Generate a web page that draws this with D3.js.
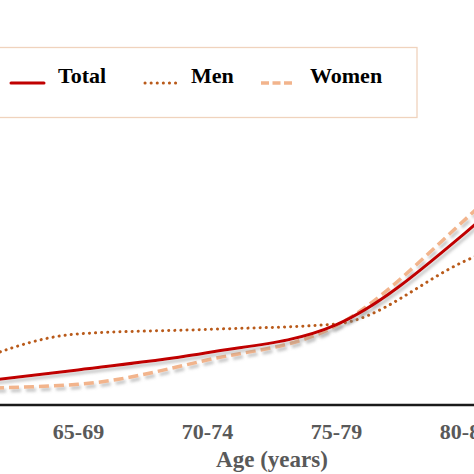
<!DOCTYPE html>
<html>
<head>
<meta charset="utf-8">
<script src="https://cdn.jsdelivr.net/npm/d3@7"></script>
<style>
html,body{margin:0;padding:0;background:#fff;overflow:hidden;}
svg{display:block;}
</style>
</head>
<body>
<svg id="chart" width="474" height="474"></svg>
<script>
// Data (prevalence-like values, %)
const categories = ["60-64", "65-69", "70-74", "75-79", "80-84", "85+"];
const totalValues = [2.2, 3.9, 5.8, 8.9, 19.1, 33];
const menValues   = [3.7, 7.9, 8.4, 9.0, 16.0, 22];
const womenValues = [1.8, 2.3, 5.0, 8.8, 20.6, 35];
const seriesNames = ["Total", "Men", "Women"];
const axisTitle = "Age (years)";

const svg = d3.select("#chart");
const W = 474, H = 474;

const x = d3.scalePoint().domain(categories).range([-51, 594]);
const y = d3.scaleLinear().domain([0, 40]).range([405, 45]);

const defs = svg.append("defs");
const f = defs.append("filter").attr("id", "shadow")
  .attr("x", "-10%").attr("y", "-10%").attr("width", "130%").attr("height", "140%");
f.append("feDropShadow").attr("dx", 2).attr("dy", 3).attr("stdDeviation", 1.8)
  .attr("flood-color", "#7a7a7a").attr("flood-opacity", 0.45);

const styles = {
  Total: {color: "#c00000", width: 3, dash: null, cap: "round"},
  Men:   {color: "#b95a1a", width: 3, dash: "0.1 6", cap: "round"},
  Women: {color: "#f2b48c", width: 3.5, dash: "10 5", cap: "butt"}
};
const seriesData = {Total: totalValues, Men: menValues, Women: womenValues};

// Lines
const line = d3.line()
  .x((d, i) => x(categories[i]))
  .y(d => y(d))
  .curve(d3.curveMonotoneX);

const g = svg.append("g");
["Men", "Women", "Total"].forEach(name => {
  const s = styles[name];
  g.append("path")
    .datum(seriesData[name])
    .attr("d", line)
    .attr("fill", "none")
    .attr("stroke", s.color)
    .attr("stroke-width", s.width)
    .attr("stroke-linecap", s.cap)
    .attr("stroke-linejoin", "round")
    .attr("stroke-dasharray", s.dash)
    .attr("filter", name === "Men" ? null : "url(#shadow)");
});

// X axis
const xAxis = d3.axisBottom(x).tickSize(0).tickPadding(0);
const ax = svg.append("g").attr("transform", `translate(0,${y(0)})`).call(xAxis);
ax.select(".domain").remove();
ax.append("line").attr("x1", 0).attr("x2", W).attr("y1", 0).attr("y2", 0)
  .attr("stroke", "#1a1a1a").attr("stroke-width", 2.6);
ax.selectAll(".tick text")
  .attr("y", 34)
  .attr("dy", 0)
  .attr("font-family", "'Liberation Serif', 'Times New Roman', serif")
  .attr("font-weight", "bold")
  .attr("font-size", 22)
  .attr("fill", "#595959");

svg.append("text")
  .attr("x", 272).attr("y", 467)
  .attr("text-anchor", "middle")
  .attr("font-family", "'Liberation Serif', 'Times New Roman', serif")
  .attr("font-weight", "bold")
  .attr("font-size", 23)
  .attr("fill", "#595959")
  .text(axisTitle);

// Legend
const lg = svg.append("g");
lg.append("rect").attr("x", -10).attr("y", 47.5).attr("width", 427).attr("height", 70)
  .attr("fill", "#fff").attr("stroke", "#f0d3bd").attr("stroke-width", 1.3);
const legendPos = {Total: [11, 58], Men: [145, 191], Women: [261, 310]};
seriesNames.forEach(name => {
  const s = styles[name];
  const [lx, tx] = legendPos[name];
  lg.append("line").attr("x1", lx).attr("x2", lx + 33).attr("y1", 83).attr("y2", 83)
    .attr("stroke", s.color).attr("stroke-width", s.width)
    .attr("stroke-linecap", s.cap)
    .attr("stroke-dasharray", name === "Women" ? "8 3.5" : s.dash);
  lg.append("text").attr("x", tx).attr("y", 83)
    .attr("font-family", "'Liberation Serif', 'Times New Roman', serif")
    .attr("font-weight", "bold").attr("font-size", 22).attr("fill", "#000")
    .text(name);
});
</script>
</body>
</html>
